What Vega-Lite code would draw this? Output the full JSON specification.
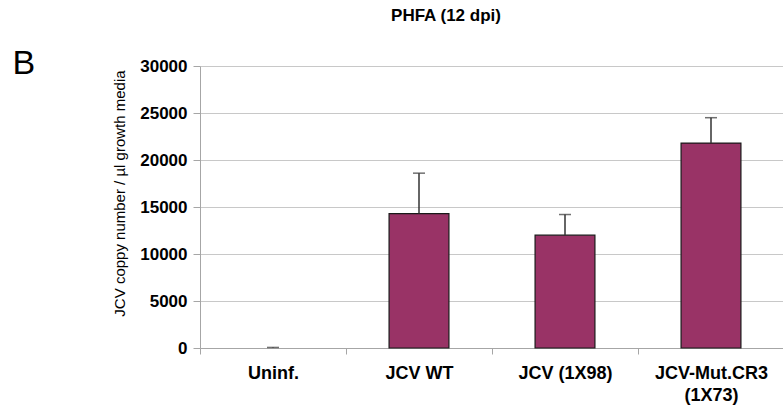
{
  "$schema": "https://vega.github.io/schema/vega-lite/v6.json",
  "width": 584,
  "height": 282,
  "autosize": {"type": "none"},
  "padding": {"left": 200, "top": 66, "right": 0, "bottom": 59},
  "background": "white",
  "title": {"text": "PHFA (12 dpi)", "font": "Liberation Sans", "fontSize": 17, "fontWeight": "bold", "color": "#000000", "anchor": "middle", "frame": "group", "dx": -46, "offset": 21},
  "data": {"values": [
    {"group": "Uninf.", "value": 0, "upper": 60},
    {"group": "JCV WT", "value": 14300, "upper": 18600},
    {"group": "JCV (1X98)", "value": 12000, "upper": 14200},
    {"group": "JCV-Mut.CR3 (1X73)", "value": 21800, "upper": 24500}
  ]},
  "config": {"view": {"stroke": null}, "axis": {"labelFont": "Liberation Sans", "titleFont": "Liberation Sans"}},
  "encoding": {
    "x": {"field": "group", "type": "nominal", "sort": ["Uninf.", "JCV WT", "JCV (1X98)", "JCV-Mut.CR3 (1X73)"], "scale": {"padding": 0},
      "axis": {"title": null, "labelAngle": 0, "labelFontSize": 18, "labelFontWeight": "bold", "labelColor": "#000000", "labelPadding": 10, "tickColor": "#a6a6a6", "tickSize": 6, "domainColor": "#a6a6a6", "tickBand": "extent", "grid": false, "labelLineHeight": 22,
        "labelExpr": "datum.label == 'JCV-Mut.CR3 (1X73)' ? ['JCV-Mut.CR3','(1X73)'] : datum.label"}}
  },
  "layer": [
    {
      "transform": [{"filter": "datum.value > 0"}],
      "mark": {"type": "bar", "color": "#993366", "stroke": "#1a1a1a", "strokeWidth": 1.2, "width": {"band": 0.41}},
      "encoding": {
        "y": {"field": "value", "type": "quantitative", "scale": {"domain": [0, 30000]},
          "axis": {"title": "JCV coppy number / µl growth media", "titleFontSize": 15, "titleFontWeight": "normal", "titleColor": "#000000", "titlePadding": 12, "titleY": 127,
            "labelFontSize": 17, "labelFontWeight": "bold", "labelColor": "#000000", "labelPadding": 6, "tickSize": 7, "tickColor": "#a6a6a6", "domainColor": "#a6a6a6", "gridColor": "#c8c8c8", "values": [0, 5000, 10000, 15000, 20000, 25000, 30000], "format": "d"}}
      }
    },
    {
      "mark": {"type": "rule", "color": "#333333", "strokeWidth": 1.5},
      "encoding": {
        "y": {"field": "value", "type": "quantitative", "axis": null},
        "y2": {"field": "upper"}
      }
    },
    {
      "mark": {"type": "tick", "color": "#333333", "thickness": 1.5, "size": 12},
      "encoding": {
        "y": {"field": "upper", "type": "quantitative",
          "axis": {"orient": "right", "title": "B", "titleAngle": 0, "titleFontSize": 34, "titleFontWeight": "normal", "titleColor": "#000000", "titleX": -772, "titleY": 7, "titleAlign": "left", "titleBaseline": "alphabetic", "labels": false, "ticks": false, "domain": false, "grid": false}}
      }
    }
  ],
  "resolve": {"axis": {"y": "independent"}}
}
